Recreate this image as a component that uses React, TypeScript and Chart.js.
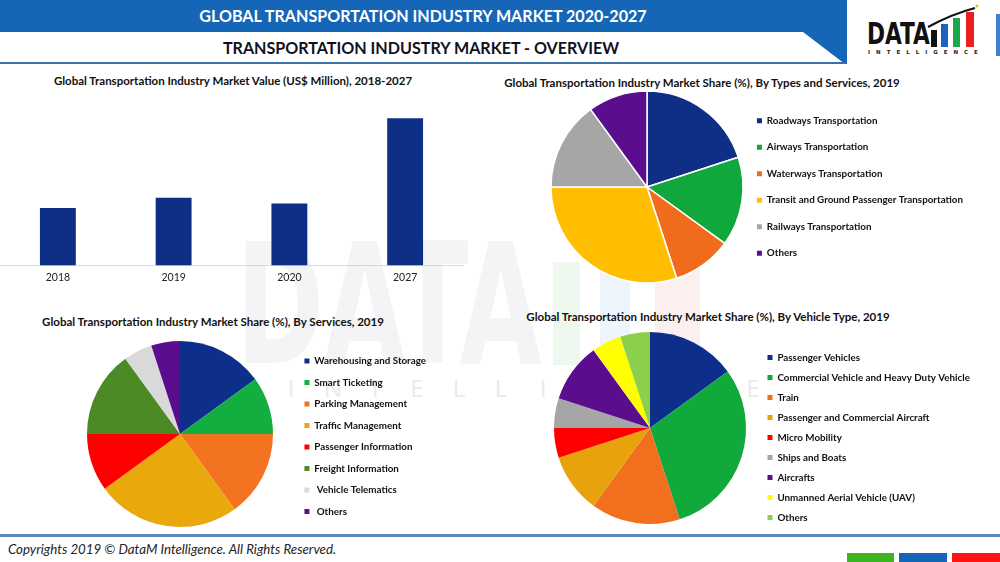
import React, { useEffect, useRef } from 'react';
import { Chart, registerables } from 'chart.js';

Chart.register(...registerables);

const FONT = 'Lato';

// ---- Data ----
const barYears = ['2018', '2019', '2020', '2027'];
const barValues = [57, 67, 61.5, 146];
const barAxisMax = 168;

const typeLabels = [
  'Roadways Transportation',
  'Airways Transportation',
  'Waterways Transportation',
  'Transit and Ground Passenger Transportation',
  'Railways Transportation',
  'Others',
];
const typeShares = [20, 15, 10, 30, 15, 10];
const typeColors = ['#0e2f85', '#10a83c', '#f06b1c', '#ffbf00', '#a6a6a6', '#5a0e8e'];

const serviceLabels = [
  'Warehousing and Storage',
  'Smart Ticketing',
  'Parking Management',
  'Traffic Management',
  'Passenger Information',
  'Freight Information',
  ' Vehicle Telematics',
  ' Others',
];
const serviceShares = [15, 10, 15, 25, 10, 15, 5, 5];
const serviceColors = ['#0d2e8a', '#12ae40', '#f47321', '#e9a80b', '#ff0000', '#4b8a25', '#d9d9d9', '#5a0e8e'];

const vehicleLabels = [
  'Passenger Vehicles',
  'Commercial Vehicle and Heavy Duty Vehicle',
  'Train',
  'Passenger and Commercial Aircraft',
  'Micro Mobility',
  'Ships and Boats',
  'Aircrafts',
  'Unmanned Aerial Vehicle (UAV)',
  'Others',
];
const vehicleShares = [15, 30, 15, 10, 5, 5, 10, 5, 5];
const vehicleColors = ['#0d2e8a', '#11a83c', '#f26f1e', '#e8a20c', '#ff0000', '#a6a6a6', '#5a0e8e', '#ffff00', '#8ccf4a'];

const LEGEND_FONT = 9.8;

// ---- helpers ----
function measureMax(labels: string[], size: number) {
  const ctx = document.createElement('canvas').getContext('2d')!;
  ctx.font = `bold ${size}px ${FONT}`;
  return Math.max(...labels.map((l) => ctx.measureText(l).width));
}

type PieSpec = {
  labels: string[];
  data: number[];
  colors: string[];
  cx: number;
  cy: number;
  r: number;
  left: number;
  height: number;
  textRight: number;
  fontSize: number;
  gap: number;
  border: number;
  shift: number;
};

function pieGeometry(s: PieSpec) {
  const boxW = 5;
  const P = s.gap - s.fontSize;
  const maxText = measureMax(s.labels, s.fontSize);
  const legendW = P + boxW + s.fontSize / 2 + maxText + 10;
  const canvasRight = s.textRight + 10;
  const width = Math.round(canvasRight - s.left);
  const chartRight = s.left + width - legendW;
  const padL = Math.max(0, 2 * s.cx - chartRight - s.left);
  const top = s.cy - s.height / 2;
  return { width, top, padL, P, boxW };
}

function pieConfig(s: PieSpec, g: ReturnType<typeof pieGeometry>): any {
  return {
    type: 'pie',
    data: {
      labels: s.labels,
      datasets: [
        {
          data: s.data,
          backgroundColor: s.colors,
          borderColor: '#ffffff',
          borderWidth: s.border,
          radius: s.r,
        },
      ],
    },
    options: {
      responsive: false,
      animation: false,
      devicePixelRatio: 1,
      layout: { padding: { left: g.padL, right: 0, top: 0, bottom: 0 } },
      plugins: {
        tooltip: { enabled: false },
        legend: {
          position: 'right',
          align: 'center',
          maxWidth: 600,
          title: {
            display: s.shift > 0,
            text: '',
            font: { size: 1, lineHeight: 1 },
            padding: { top: 0, bottom: Math.max(0, 2 * s.shift - 1) },
          },
          labels: {
            boxWidth: g.boxW,
            boxHeight: g.boxW,
            padding: g.P,
            color: '#111111',
            font: { family: FONT, size: s.fontSize, weight: 'bold' },
            generateLabels: (chart: any) =>
              (Chart as any).overrides.pie.plugins.legend.labels
                .generateLabels(chart)
                .map((it: any) => ({ ...it, lineWidth: 0, strokeStyle: 'rgba(0,0,0,0)' })),
          },
        },
      },
    },
  };
}

function ChartCanvas(props: { left: number; top: number; width: number; height: number; make: () => any }) {
  const ref = useRef<HTMLCanvasElement>(null);
  useEffect(() => {
    const chart = new Chart(ref.current!, props.make());
    return () => chart.destroy();
  }, []);
  return (
    <canvas
      ref={ref}
      width={props.width}
      height={props.height}
      style={{ position: 'absolute', left: props.left, top: props.top, width: props.width, height: props.height }}
    />
  );
}

function PieChart(s: PieSpec) {
  const g = pieGeometry(s);
  return <ChartCanvas left={s.left} top={g.top} width={g.width} height={s.height} make={() => pieConfig(s, g)} />;
}

function barConfig(): any {
  return {
    type: 'bar',
    data: {
      labels: barYears,
      datasets: [
        {
          data: barValues,
          backgroundColor: '#0d2f86',
          barPercentage: 0.31,
          categoryPercentage: 1,
        },
      ],
    },
    options: {
      responsive: false,
      animation: false,
      devicePixelRatio: 1,
      layout: { padding: { left: 0, right: 3, top: 0, bottom: 0 } },
      plugins: { legend: { display: false }, tooltip: { enabled: false } },
      scales: {
        x: {
          grid: { display: false, drawTicks: false },
          border: { display: true, color: '#d9d9d9', width: 1 },
          ticks: { padding: 6, color: '#222222', font: { family: FONT, size: 10.5 } },
        },
        y: { display: false, min: 0, max: barAxisMax },
      },
    },
  };
}

const Text = (p: { cx: number; cy: number; text: string; size: number; color: string; weight?: any; style?: any }) => (
  <div
    style={{
      position: 'absolute',
      left: p.cx - 400,
      width: 800,
      top: p.cy - 10,
      height: 20,
      lineHeight: '20px',
      textAlign: 'center',
      fontSize: p.size,
      fontWeight: p.weight ?? 'bold',
      color: p.color,
      whiteSpace: 'nowrap',
      fontFamily: FONT,
      ...(p.style || {}),
    }}
  >
    {p.text}
  </div>
);

const wmLetters = 'INTELLIGENCE'.split('');

export default function App() {
  return (
    <div
      style={{
        position: 'absolute',
        left: 0,
        top: 0,
        width: 1000,
        height: 562,
        overflow: 'hidden',
        background: '#ffffff',
        fontFamily: FONT,
      }}
    >
      {/* watermark */}
      <div
        style={{
          position: 'absolute',
          left: 236,
          top: 205,
          fontFamily: 'DejaVu Sans Condensed',
          fontWeight: 'bold',
          fontSize: 168,
          lineHeight: '200px',
          color: '#f4f4f6',
          transform: 'scaleX(0.7)',
          transformOrigin: 'left top',
          whiteSpace: 'nowrap',
        }}
      >
        DATA
      </div>
      <div style={{ position: 'absolute', left: 553, top: 262, width: 27, height: 103, background: '#eef8ee' }} />
      <div style={{ position: 'absolute', left: 600, top: 250, width: 30, height: 115, background: '#eef5fc' }} />
      <div style={{ position: 'absolute', left: 655, top: 240, width: 45, height: 125, background: '#fcefef' }} />
      {wmLetters.map((c, i) => (
        <div
          key={i}
          style={{
            position: 'absolute',
            left: 291 + 42 * i - 15,
            width: 30,
            top: 374,
            textAlign: 'center',
            fontSize: 24,
            lineHeight: '28px',
            color: '#eaeaea',
            fontFamily: 'Open Sans',
          }}
        >
          {c}
        </div>
      ))}

      {/* header */}
      <div
        style={{
          position: 'absolute',
          left: 0,
          top: 0,
          width: 847,
          height: 64,
          background: '#1666b8',
          clipPath: 'polygon(0 0, 847px 0, 847px 64px, 845px 64px, 803px 32px, 0 32px)',
        }}
      />
      <div style={{ position: 'absolute', left: 0, top: 62, width: 846, height: 2, background: '#3d6fab' }} />
      <Text cx={423} cy={16} text="GLOBAL TRANSPORTATION INDUSTRY MARKET 2020-2027" size={16.1} color="#ffffff" />
      <Text cx={421} cy={48} text="TRANSPORTATION INDUSTRY MARKET - OVERVIEW" size={16.1} color="#111122" />

      {/* logo */}
      <div
        style={{
          position: 'absolute',
          left: 867,
          top: 13,
          fontFamily: 'DejaVu Sans Condensed',
          fontWeight: 'bold',
          fontSize: 31,
          lineHeight: '40px',
          color: '#111111',
          transform: 'scaleX(0.78)',
          transformOrigin: 'left top',
        }}
      >
        DATA
      </div>
      <div style={{ position: 'absolute', left: 931, top: 30, width: 6, height: 17, background: '#111111' }} />
      <div style={{ position: 'absolute', left: 941, top: 24, width: 7, height: 23, background: '#1e5fbf' }} />
      <div style={{ position: 'absolute', left: 953, top: 18, width: 7, height: 29, background: '#1aa84a' }} />
      <div style={{ position: 'absolute', left: 966, top: 12, width: 8, height: 35, background: '#e82020' }} />
      <svg style={{ position: 'absolute', left: 0, top: 0 }} width={1000} height={60}>
        <path d="M 928 27 Q 952 14 975 8" stroke="#111111" strokeWidth={2} fill="none" />
        <circle cx={977} cy={6} r={1.5} fill="#f2c200" />
      </svg>
      <div
        style={{
          position: 'absolute',
          left: 868,
          top: 49,
          fontSize: 5.5,
          lineHeight: '7px',
          letterSpacing: '6px',
          fontWeight: 'bold',
          color: '#222222',
          fontFamily: 'DejaVu Sans',
          whiteSpace: 'nowrap',
        }}
      >
        INTELLIGENCE
      </div>
      <div style={{ position: 'absolute', left: 996, top: 14, width: 4, height: 42, background: '#3e7fcf' }} />

      {/* chart titles */}
      <Text cx={233} cy={81} text="Global Transportation Industry Market Value (US$ Million), 2018-2027" size={11.5} color="#111111" />
      <Text cx={702} cy={83} text="Global Transportation Industry Market Share (%), By Types and Services, 2019" size={11.5} color="#111111" />
      <Text cx={213} cy={322} text="Global Transportation Industry Market Share (%), By Services, 2019" size={11.5} color="#111111" />
      <Text cx={708} cy={317} text="Global Transportation Industry Market Share (%), By Vehicle Type, 2019" size={11.5} color="#111111" />

      {/* charts */}
      <ChartCanvas left={0} top={96} width={466} height={194} make={barConfig} />
      <PieChart
        labels={typeLabels}
        data={typeShares}
        colors={typeColors}
        cx={647}
        cy={187}
        r={96}
        left={520}
        height={198}
        textRight={963}
        fontSize={LEGEND_FONT}
        gap={26.5}
        border={1.5}
        shift={0}
      />
      <PieChart
        labels={serviceLabels}
        data={serviceShares}
        colors={serviceColors}
        cx={180}
        cy={434}
        r={93}
        left={40}
        height={200}
        textRight={426}
        fontSize={LEGEND_FONT}
        gap={21.5}
        border={0}
        shift={2.3}
      />
      <PieChart
        labels={vehicleLabels}
        data={vehicleShares}
        colors={vehicleColors}
        cx={650}
        cy={428}
        r={96}
        left={520}
        height={214}
        textRight={970}
        fontSize={LEGEND_FONT}
        gap={20}
        border={0}
        shift={9.5}
      />

      {/* footer */}
      <div style={{ position: 'absolute', left: 0, top: 534, width: 1000, height: 3, background: '#5a86b8' }} />
      <div
        style={{
          position: 'absolute',
          left: 8,
          top: 541,
          fontSize: 13.3,
          lineHeight: '17px',
          fontStyle: 'italic',
          color: '#222222',
          fontFamily: FONT,
          whiteSpace: 'nowrap',
        }}
      >
        Copyrights 2019 © DataM Intelligence. All Rights Reserved.
      </div>
      <div style={{ position: 'absolute', left: 847, top: 553, width: 47, height: 9, background: '#3cb521' }} />
      <div style={{ position: 'absolute', left: 899, top: 553, width: 48, height: 9, background: '#1565b7' }} />
      <div style={{ position: 'absolute', left: 952, top: 553, width: 48, height: 9, background: '#ff1414' }} />
    </div>
  );
}
